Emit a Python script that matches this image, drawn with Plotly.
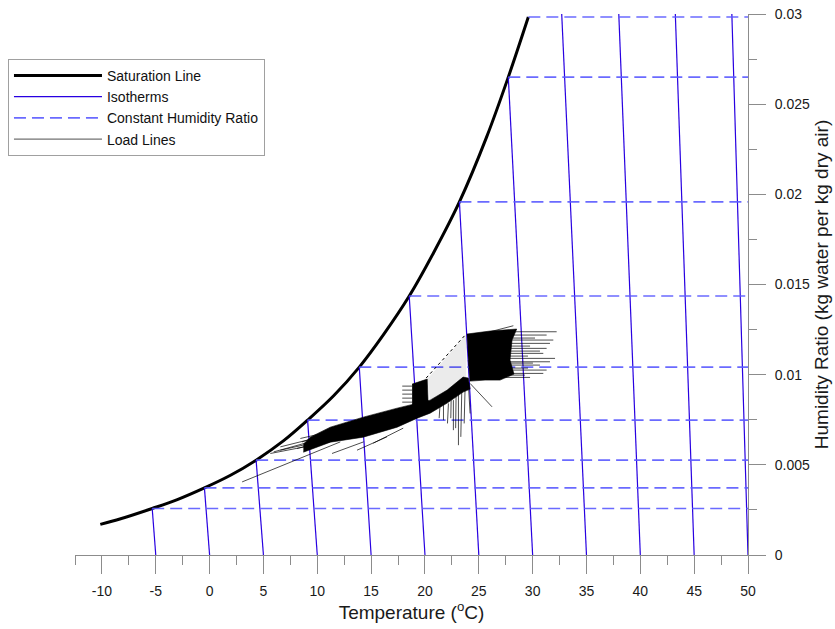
import plotly.graph_objects as go

# ---------------- data ----------------
# Saturation line (temperature, humidity ratio)
sat_T = [-10.15, -8.26, -5.33, -3.0, -0.48, 1.94, 4.32, 6.88, 9.10, 11.52,
         13.9, 16.15, 18.54, 20.79, 23.2, 25.74, 27.74, 29.6]
sat_W = [0.00170, 0.00201, 0.00258, 0.00307, 0.00372, 0.00442, 0.00526, 0.00634,
         0.00748, 0.00883, 0.01042, 0.01222, 0.01436, 0.01675, 0.01958, 0.02320,
         0.02650, 0.02983]

# Isotherms: value at W=0 and the upper end point
iso_T = [-5, 0, 5, 10, 15, 20, 25, 30, 35, 40, 45, 50]
iso_top_T = [-5.33, -0.48, 4.32, 9.10, 13.9, 18.54, 23.2, 27.74, 32.7, 38.0, 43.25, 48.5]
iso_top_W = [0.00258, 0.00372, 0.00526, 0.00748, 0.01042, 0.01436, 0.01958, 0.0265,
             0.0300, 0.0300, 0.0300, 0.0300]

# Constant humidity ratio lines
chr_W = [0.00258, 0.00372, 0.00526, 0.00748, 0.01042, 0.01436, 0.01958, 0.0265, 0.02983]
chr_start_T = [-5.33, -0.48, 4.32, 9.10, 13.9, 18.54, 23.2, 27.74, 29.6]
chr_end_T = 50

# Axis tick labels
x_tick_vals = [-10, -5, 0, 5, 10, 15, 20, 25, 30, 35, 40, 45, 50]
x_tick_text = ["-10", "-5", "0", "5", "10", "15", "20", "25", "30", "35", "40", "45", "50"]
y_tick_vals = [0, 0.005, 0.01, 0.015, 0.02, 0.025, 0.03]
y_tick_text = ["0", "0.005", "0.01", "0.015", "0.02", "0.025", "0.03"]

# Load lines: dense regions (outlines)
band_T = [8.71, 9.35, 11.21, 14.27, 17.42, 19.28, 20.48, 22.06, 23.54, 24.02,
          24.19, 23.54, 22.06, 20.48, 19.28, 17.42, 14.27, 11.21, 9.35, 8.71]
band_W = [0.006146, 0.006534, 0.007089, 0.007644, 0.008144, 0.008422, 0.008588, 0.009143,
          0.009865, 0.009810, 0.009199, 0.009032, 0.008422, 0.007866, 0.007589, 0.007089,
          0.006534, 0.006257, 0.005812, 0.005701]
blockB_T = [18.81, 19.56, 20.21, 20.30, 18.81]
blockB_W = [0.009477, 0.009643, 0.009754, 0.008311, 0.008200]
blockE_T = [23.89, 26.05, 28.52, 28.09, 27.90, 28.27, 26.97, 25.58, 24.19, 24.02]
blockE_W = [0.012252, 0.012419, 0.012530, 0.011919, 0.010809, 0.010032, 0.009698,
            0.009698, 0.009643, 0.010809]
sparse_T = [20.21, 23.89, 23.82, 22.06, 20.48]
sparse_W = [0.009754, 0.012252, 0.009865, 0.009143, 0.008588]
edge_T = [20.11, 23.82]
edge_W = [0.009810, 0.012252]

# Load lines: individual segments (start T, start W, end T, end W)
seg_T0 = [3.02, 5.64, 6.57, 8.12, 8.58, 11.37, 13.69, 15.20, 5.95, 6.57, 8.43,
          23.11, 23.42, 22.64, 22.18, 23.73, 21.72, 24.04, 22.43, 22.89, 21.41,
          26.05, 24.19,
          17.89, 17.89, 17.89, 17.89, 17.89,
          27.44, 27.44, 27.44, 27.44, 27.44, 27.44, 27.44, 27.44, 27.44, 27.44,
          27.44, 27.44, 27.44, 27.44, 27.44, 27.44, 27.44, 27.44, 27.44]
seg_W0 = [0.004053, 0.005629, 0.005812, 0.005907, 0.006273, 0.005629, 0.005812, 0.006201,
          0.005718, 0.005996, 0.006462,
          0.008960, 0.009143, 0.008588, 0.008405, 0.009327, 0.008311, 0.009421, 0.008588,
          0.008866, 0.008422,
          0.012380, 0.009515,
          0.009365, 0.009143, 0.008921, 0.008699, 0.008477,
          0.012380, 0.012197, 0.011919, 0.011736, 0.011458, 0.011181, 0.010903, 0.010715,
          0.010531, 0.010254, 0.010070, 0.009848, 0.012030, 0.011586, 0.011308, 0.011031,
          0.010642, 0.010365, 0.009976]
seg_T1 = [12.14, 11.21, 12.14, 12.60, 12.60, 14.30, 16.47, 17.98, 12.14, 12.14, 12.60,
          23.11, 23.33, 22.64, 22.09, 23.64, 21.72, 24.19, 22.40, 22.85, 21.32,
          28.21, 26.23,
          18.81, 18.81, 18.81, 18.81, 18.81,
          32.23, 31.30, 31.92, 31.61, 31.30, 30.99, 32.08, 31.61, 30.68, 31.30,
          30.99, 29.76, 30.22, 29.76, 30.68, 29.57, 30.03, 29.57, 29.29]
seg_W1 = [0.006273, 0.006273, 0.006551, 0.006590, 0.007034, 0.006273, 0.006551, 0.007034,
          0.006740, 0.006828, 0.007034,
          0.006090, 0.006551, 0.006923, 0.007295, 0.007295, 0.007478, 0.007850, 0.007589,
          0.007034, 0.007589,
          0.012713, 0.008216,
          0.009365, 0.009143, 0.008921, 0.008699, 0.008477,
          0.012380, 0.012197, 0.011919, 0.011736, 0.011458, 0.011181, 0.010903, 0.010715,
          0.010531, 0.010254, 0.010070, 0.009848, 0.012030, 0.011586, 0.011308, 0.011031,
          0.010642, 0.010365, 0.009976]

# ---------------- build ----------------
FONT = "Arial, Liberation Sans, sans-serif"
AX = "#8c8c8c"

def joined(x0, y0, x1, y1):
    xs, ys = [], []
    for a, b, c, d in zip(x0, y0, x1, y1):
        xs += [a, c, None]
        ys += [b, d, None]
    return xs, ys

iso_x, iso_y = joined(iso_T, [0] * len(iso_T), iso_top_T, iso_top_W)
chr_x, chr_y = joined(chr_start_T, chr_W, [chr_end_T] * len(chr_W), chr_W)
seg_x, seg_y = joined(seg_T0, seg_W0, seg_T1, seg_W1)

fig = go.Figure()
fig.add_trace(go.Scatter(x=sat_T, y=sat_W, mode="lines", name="Saturation Line",
                         line=dict(color="black", width=3, shape="spline"),
                         legendgroup="a"))
fig.add_trace(go.Scatter(x=iso_x, y=iso_y, mode="lines", name="Isotherms",
                         line=dict(color="rgb(40,0,225)", width=1.2), legendgroup="b"))
fig.add_trace(go.Scatter(x=chr_x, y=chr_y, mode="lines", name="Constant Humidity Ratio",
                         line=dict(color="rgba(90,90,255,0.9)", width=1.6, dash="12px,6px"),
                         legendgroup="c"))
fig.add_trace(go.Scatter(x=sparse_T, y=sparse_W, mode="lines", fill="toself",
                         fillcolor="rgba(0,0,0,0.08)", line=dict(width=0),
                         showlegend=False, hoverinfo="skip"))
for px_, py_ in [(band_T, band_W), (blockB_T, blockB_W), (blockE_T, blockE_W)]:
    fig.add_trace(go.Scatter(x=px_, y=py_, mode="lines", fill="toself", fillcolor="black",
                             line=dict(color="black", width=0.6), showlegend=False,
                             hoverinfo="skip"))
fig.add_trace(go.Scatter(x=edge_T, y=edge_W, mode="lines",
                         line=dict(color="black", width=1, dash="dot"),
                         showlegend=False, hoverinfo="skip"))
fig.add_trace(go.Scatter(x=seg_x, y=seg_y, mode="lines", name="Load Lines",
                         line=dict(color="black", width=0.7), legendgroup="d"))

fig.update_layout(
    width=835, height=629,
    margin=dict(l=75, r=87, t=14, b=74, autoexpand=False),
    paper_bgcolor="white", plot_bgcolor="white",
    font=dict(family=FONT, size=14, color="#1a1a1a"),
    showlegend=True,
    legend=dict(x=-0.0996, y=0.917, xanchor="left", yanchor="top",
                bgcolor="white", bordercolor="#a0a0a0", borderwidth=1,
                font=dict(family=FONT, size=14, color="#111"),
                itemwidth=88, traceorder="grouped", tracegroupgap=0),
    xaxis=dict(range=[-12.5, 50], tickmode="array", tickvals=x_tick_vals,
               ticktext=x_tick_text,
               ticks="outside", ticklen=18, tickcolor=AX, tickwidth=1,
               showline=True, linecolor=AX, linewidth=1, automargin=False,
               showgrid=False, zeroline=False, ticklabelstandoff=5,
               tickfont=dict(size=14),
               minor=dict(dtick=2.5, tick0=0, ticks="outside", ticklen=9,
                          tickcolor=AX, showgrid=False),
               title=dict(text="Temperature (<sup>o</sup>C)", font=dict(size=19),
                          standoff=3)),
    yaxis=dict(range=[0, 0.03], side="right", tickmode="array", tickvals=y_tick_vals,
               ticktext=y_tick_text,
               ticks="outside", ticklen=17, tickcolor=AX, tickwidth=1,
               showline=True, linecolor=AX, linewidth=1, automargin=False,
               showgrid=False, zeroline=False, ticklabelstandoff=6,
               tickfont=dict(size=14),
               minor=dict(dtick=0.0025, tick0=0, ticks="outside", ticklen=8,
                          tickcolor=AX, showgrid=False),
               title=dict(text="Humidity Ratio (kg water per kg dry air)",
                          font=dict(size=19), standoff=5)),
)

fig.write_html("out.html", config={"displayModeBar": False},
               post_script="document.body.style.margin='0px';")
